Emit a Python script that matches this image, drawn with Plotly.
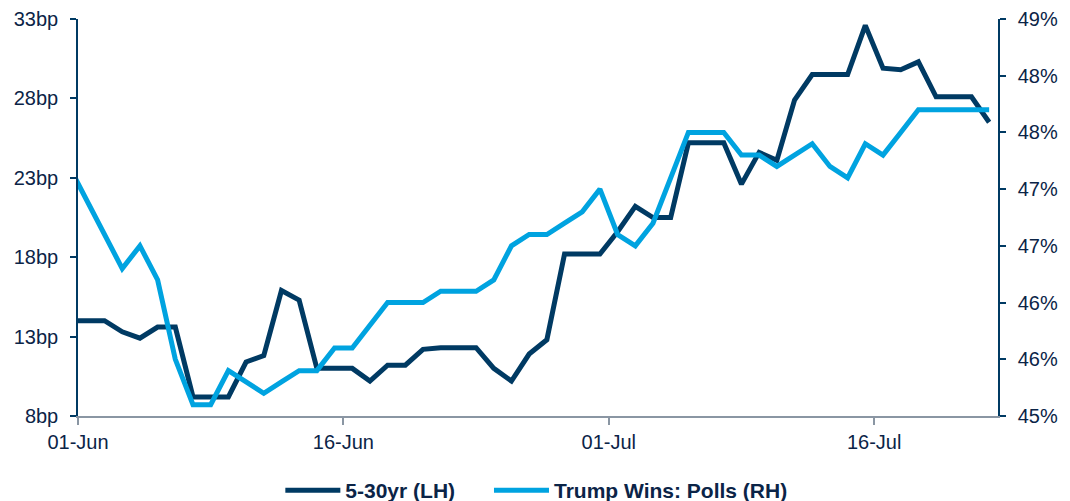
import pandas as pd
import plotly.graph_objects as go

# Daily observations (weekends/holidays carried forward), 31-May-2024 .. 22-Jul-2024
dates = pd.date_range("2024-05-31", "2024-07-22", freq="D")

curve_5s30s_bp = [
    14.0, 14.0, 14.0, 13.3, 12.9, 13.6, 13.6, 9.2, 9.2, 9.2,
    11.4, 11.8, 15.9, 15.3, 11.0, 11.0, 11.0, 10.2, 11.2, 11.2,
    12.2, 12.3, 12.3, 12.3, 11.0, 10.2, 11.9, 12.8, 18.2, 18.2,
    18.2, 19.6, 21.2, 20.5, 20.5, 25.2, 25.2, 25.2, 22.6, 24.6,
    24.1, 27.9, 29.5, 29.5, 29.5, 32.6, 29.9, 29.8, 30.3, 28.1,
    28.1, 28.1, 26.5,
]

trump_polls_pct = [
    47.7, 47.4, 47.1, 46.8, 47.0, 46.7, 46.0, 45.6, 45.6, 45.9,
    45.8, 45.7, 45.8, 45.9, 45.9, 46.1, 46.1, 46.3, 46.5, 46.5,
    46.5, 46.6, 46.6, 46.6, 46.7, 47.0, 47.1, 47.1, 47.2, 47.3,
    47.5, 47.1, 47.0, 47.2, 47.6, 48.0, 48.0, 48.0, 47.8, 47.8,
    47.7, 47.8, 47.9, 47.7, 47.6, 47.9, 47.8, 48.0, 48.2, 48.2,
    48.2, 48.2, 48.2,
]

x_tick_dates = ["2024-06-01", "2024-06-16", "2024-07-01", "2024-07-16"]
left_tick_vals = [8, 13, 18, 23, 28, 33]
left_tick_text = ["8bp", "13bp", "18bp", "23bp", "28bp", "33bp"]
right_tick_vals = [45.5, 46.0, 46.5, 47.0, 47.5, 48.0, 48.5, 49.0]
right_tick_text = ["45%", "46%", "46%", "47%", "47%", "48%", "48%", "49%"]

NAVY = "#003A63"
LIGHT = "#00A3E0"
TEXT = "#0B2447"
XGRAY = "#8A96A3"
FONT = "Liberation Sans, Arial, sans-serif"
DAY_MS = 86400000

fig = go.Figure()
fig.add_trace(go.Scatter(
    x=dates, y=curve_5s30s_bp, name="5-30yr (LH)", mode="lines",
    line=dict(color=NAVY, width=5), xperiod=DAY_MS, xperiodalignment="middle",
    yaxis="y", legend="legend",
))
fig.add_trace(go.Scatter(
    x=dates, y=trump_polls_pct, name="Trump Wins: Polls (RH)", mode="lines",
    line=dict(color=LIGHT, width=5), xperiod=DAY_MS, xperiodalignment="middle",
    yaxis="y2", legend="legend2",
))

legend_style = dict(
    orientation="h", xref="container", yref="container",
    xanchor="left", yanchor="middle", y=0.021,
    font=dict(family=FONT, size=21, color=TEXT, weight="bold"),
    itemwidth=55, bgcolor="rgba(0,0,0,0)", borderwidth=0,
)

fig.update_layout(
    width=1070, height=501,
    margin=dict(l=78, r=72, t=19, b=85),
    paper_bgcolor="white", plot_bgcolor="white",
    font=dict(family=FONT, size=20, color=TEXT),
    showlegend=True,
    legend=dict(legend_style, x=0.262),
    legend2=dict(legend_style, x=0.457),
    xaxis=dict(
        type="date", range=["2024-06-01", "2024-07-23"],
        tickvals=x_tick_dates, tickformat="%d-%b", automargin=False,
        showgrid=False, zeroline=False,
        showline=True, linecolor=XGRAY, linewidth=1.5,
        ticks="outside", ticklen=7, tickcolor=XGRAY, tickwidth=1.5,
        tickfont=dict(family=FONT, size=20, color=TEXT),
    ),
    yaxis=dict(
        range=[8, 33], tickvals=left_tick_vals, ticktext=left_tick_text,
        automargin=False,
        showgrid=False, zeroline=False,
        showline=True, linecolor=NAVY, linewidth=1.5,
        ticks="outside", ticklen=6, tickcolor=NAVY, tickwidth=1.5,
        ticklabelstandoff=8,
        tickfont=dict(family=FONT, size=20, color=TEXT),
    ),
    yaxis2=dict(
        range=[45.5, 49], tickvals=right_tick_vals, ticktext=right_tick_text,
        overlaying="y", side="right", anchor="x", automargin=False,
        showgrid=False, zeroline=False,
        showline=True, linecolor=NAVY, linewidth=1.5,
        ticks="outside", ticklen=6, tickcolor=NAVY, tickwidth=1.5,
        ticklabelstandoff=8,
        tickfont=dict(family=FONT, size=20, color=TEXT),
    ),
)

fig.write_html(
    "out.html",
    config={"displayModeBar": False},
    post_script="document.body.style.margin='0';document.body.style.padding='0';",
)
